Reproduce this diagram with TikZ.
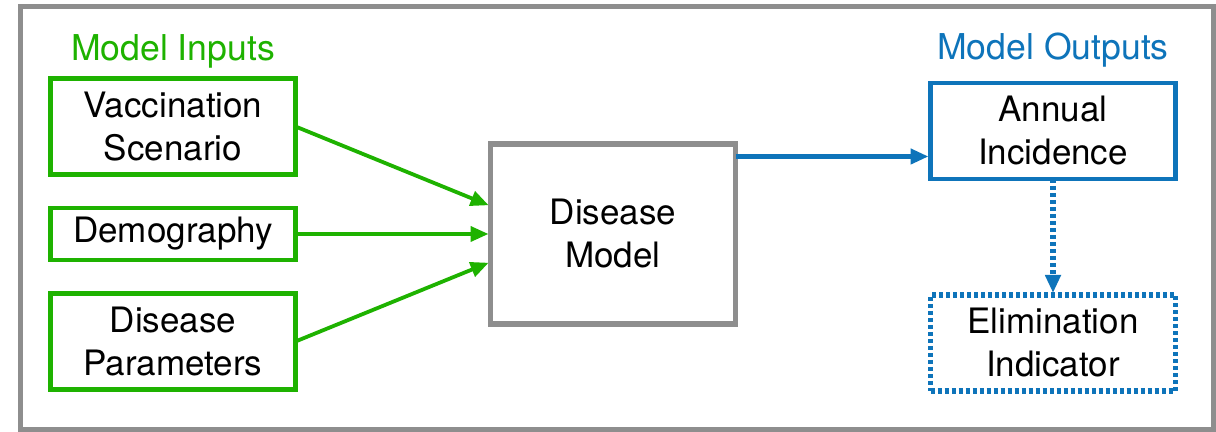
\documentclass[tikz,border=0pt]{standalone}
\usepackage{fontspec}
\setmainfont{TeX Gyre Heros}
\usetikzlibrary{positioning,arrows.meta}
\tikzset{>={Triangle[length=9pt,width=7.5pt]}}
\definecolor{ingreen}{RGB}{30,178,0}
\definecolor{outblue}{RGB}{14,116,186}
\definecolor{framegray}{RGB}{142,142,142}

\begin{document}
\begin{tikzpicture}[
box/.style = {line width=2.4pt, minimum width=122.5pt, minimum height=48pt,
              align=center, inner sep=0pt, outer sep=0pt,
              font=\fontsize{17.5}{21.5}\selectfont},
inbox/.style = {box, draw=ingreen},
outbox/.style = {box, draw=outblue},
title/.style = {inner sep=0pt, font=\fontsize{17.8}{21}\selectfont},
inarrow/.style = {->, draw=ingreen, line width=1.9pt, shorten >=1pt},
outarrow/.style = {->, draw=outblue, line width=2.2pt, shorten >=1pt},
dots/.style = {dash pattern=on 2pt off 1.5pt},
]
\useasboundingbox (0,0) rectangle (608pt,216pt);
\draw[framegray, line width=2.5pt] (10pt,1.25pt) rectangle (606.75pt,212.5pt);
        % inputs
        \node (vacc)  [inbox] at (86.5pt,152.75pt) {Vaccination\\Scenario};
        \node (demo)  [inbox, minimum height=26pt,
                       below=16.75pt of vacc] {Demography};
        \node (param) [inbox, below=16.75pt of demo] {Disease\\Parameters};
        \node (intitle) [title, text=ingreen, above=5pt of vacc] {Model Inputs};
        % model
        \node (model) [box, draw=framegray, line width=2.8pt,
                       minimum height=90pt,
                       right=97.5pt of demo] {Disease\\Model};
        \draw[inarrow] (vacc.east)  -- ([yshift=14pt]model.west);
        \draw[inarrow] (demo.east)  -- (model.west);
        \draw[inarrow] (param.east) -- ([yshift=-14pt]model.west);
        % outputs
        \node (annual) [outbox, right=97.5pt of model,
                        yshift=51.5pt] {Annual\\Incidence};
        \node (elim)   [outbox, line width=2.6pt, dots,
                        below=58pt of annual] {Elimination\\Indicator};
        \node (outtitle) [title, text=outblue, above=7.5pt of annual] {Model Outputs};
        \coordinate (mout) at ([yshift=-6.25pt]model.north east);
        \draw[outarrow] (mout) -- (mout -| annual.west);
        \draw[outarrow, line width=2.6pt, dots] (annual.south) -- (elim.north);
\end{tikzpicture}
\end{document}
